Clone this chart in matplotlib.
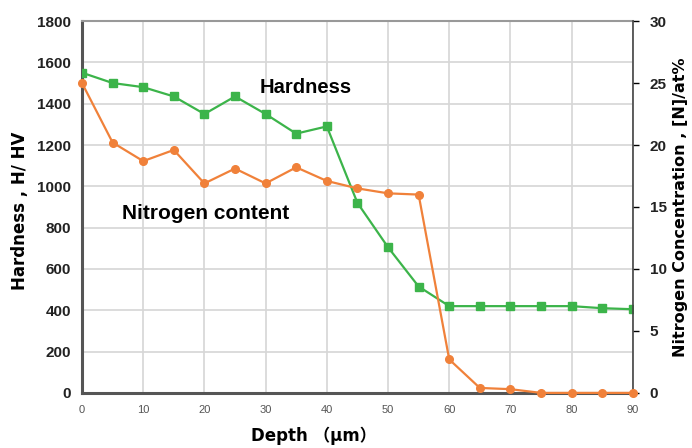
import matplotlib.pyplot as plt

plt.rcParams['font.family'] = ['Liberation Sans', 'DejaVu Sans']

depth = [0, 5, 10, 15, 20, 25, 30, 35, 40, 45, 50, 55, 60, 65, 70, 75, 80, 85, 90]
hardness = [1550, 1500, 1480, 1435, 1350, 1435, 1350, 1255, 1290, 920, 705,
            515, 420, 420, 420, 420, 420, 410, 405]
nitrogen = [25.0, 20.2, 18.7, 19.6, 16.9, 18.1, 16.9, 18.2, 17.1, 16.5, 16.1,
            16.0, 2.7, 0.4, 0.3, 0.0, 0.0, 0.0, 0.0]

green = '#3cb44a'
orange = '#f0813a'
label_font = ['DejaVu Sans', 'Noto Sans CJK JP']

fig = plt.figure(figsize=(6.92, 4.48), dpi=100)
ax = fig.add_axes([0.1185, 0.123, 0.796, 0.830])
ax2 = ax.twinx()

ax.plot(depth, hardness, color=green, marker='s', markersize=5.5, lw=1.6, zorder=3)
ax2.plot(depth, nitrogen, color=orange, marker='o', markersize=5.5, lw=1.6,
         zorder=3, clip_on=False)

ax.set_xlim(0, 90)
ax.set_ylim(0, 1800)
ax2.set_ylim(0, 30)
ax.set_xticks(range(0, 91, 10))
ax.set_yticks(range(0, 1801, 200))
ax2.set_yticks(range(0, 31, 5))

ax.grid(True, color='#d6d6d6', lw=1.2)
ax.set_axisbelow(True)

for s in ['left', 'bottom']:
    ax.spines[s].set_linewidth(2.2)
    ax.spines[s].set_color('#555555')
ax.spines['top'].set_color('#999999')
ax.spines['top'].set_linewidth(1.5)
ax.spines['right'].set_visible(False)
ax2.spines['right'].set_color('#444444')
ax2.spines['right'].set_linewidth(1.2)
for s in ['left', 'bottom', 'top']:
    ax2.spines[s].set_visible(False)

ax.tick_params(axis='y', length=0, pad=8, labelsize=11, labelcolor='#222222')
ax.tick_params(axis='x', length=0, pad=9, labelsize=8, labelcolor='#555555')
ax2.tick_params(axis='y', direction='out', length=4, width=1, pad=8,
                labelsize=11, labelcolor='#222222')
for lbl in ax.get_yticklabels() + ax2.get_yticklabels():
    lbl.set_fontweight('bold')

ax.set_ylabel('Hardness , H/ HV', fontsize=12, fontweight='bold',
              family=label_font)
ax.yaxis.set_label_coords(-0.096, 0.49)
ax2.set_ylabel('Nitrogen Concentration , [N]/at%', fontsize=11.5,
               fontweight='bold', family=label_font)
ax2.yaxis.set_label_coords(1.0726, 0.5)
ax.set_xlabel('Depth \uff08\u03bcm\uff09', fontsize=12, fontweight='bold',
              family=label_font)
ax.xaxis.set_label_coords(0.421, -0.092)

ax.text(29.0, 1480, 'Hardness', fontsize=14.5, fontweight='bold', va='center')
ax.text(6.6, 870, 'Nitrogen content', fontsize=15, fontweight='bold', va='center')

fig.savefig('out.png', dpi=100)
